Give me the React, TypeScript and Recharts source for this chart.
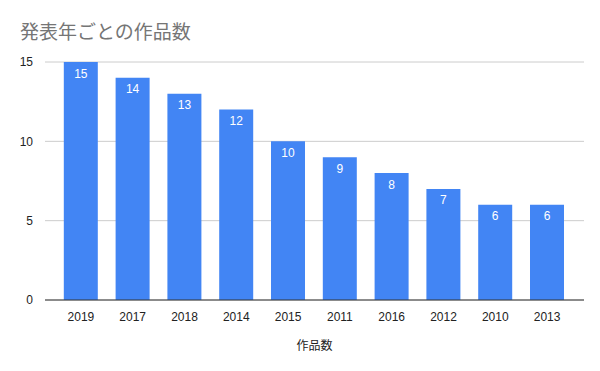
import React from 'react';
import { BarChart, Bar, XAxis, YAxis, CartesianGrid, LabelList, Label } from 'recharts';

const years = ['2019', '2017', '2018', '2014', '2015', '2011', '2016', '2012', '2010', '2013'];
const counts = [15, 14, 13, 12, 10, 9, 8, 7, 6, 6];
const yTicks = [0, 5, 10, 15];

const data = years.map((year, i) => ({ year, count: counts[i] }));

const font = '"Liberation Sans", Arial, sans-serif';

export default function App() {
  return (
    <div style={{ position: 'absolute', left: 0, top: 0, width: 600, height: 371, background: '#fff' }}>
      <div
        style={{
          position: 'absolute',
          left: 20,
          top: 19,
          fontFamily: '"Noto Sans CJK JP", sans-serif',
          fontSize: 19,
          color: '#757575',
          lineHeight: '24px',
        }}
      >
        発表年ごとの作品数
      </div>
      <BarChart
        width={600}
        height={371}
        data={data}
        margin={{ top: 62, right: 16, bottom: 21, left: 0 }}
        barCategoryGap="17%"
      >
        <CartesianGrid vertical={false} stroke="#cccccc" />
        <XAxis
          dataKey="year"
          padding={{ left: 10, right: 11 }}
          tickLine={false}
          axisLine={{ stroke: '#333333' }}
          tick={{ fill: '#222222', fontSize: 12, fontFamily: font }}
          tickMargin={6}
          height={50}
        >
          <Label
            value="作品数"
            position="insideBottom"
            offset={0}
            style={{ fill: '#222222', fontSize: 12, fontFamily: '"Noto Sans CJK JP", sans-serif' }}
          />
        </XAxis>
        <YAxis
          domain={[0, 15]}
          ticks={yTicks}
          width={45}
          axisLine={false}
          tickLine={false}
          tickMargin={6}
          tick={{ fill: '#222222', fontSize: 12, fontFamily: font }}
        />
        <Bar dataKey="count" fill="#4285f4" isAnimationActive={false}>
          <LabelList
            dataKey="count"
            position="insideTop"
            offset={7}
            style={{ fill: '#ffffff', fontSize: 12, fontFamily: font }}
          />
        </Bar>
      </BarChart>
    </div>
  );
}
